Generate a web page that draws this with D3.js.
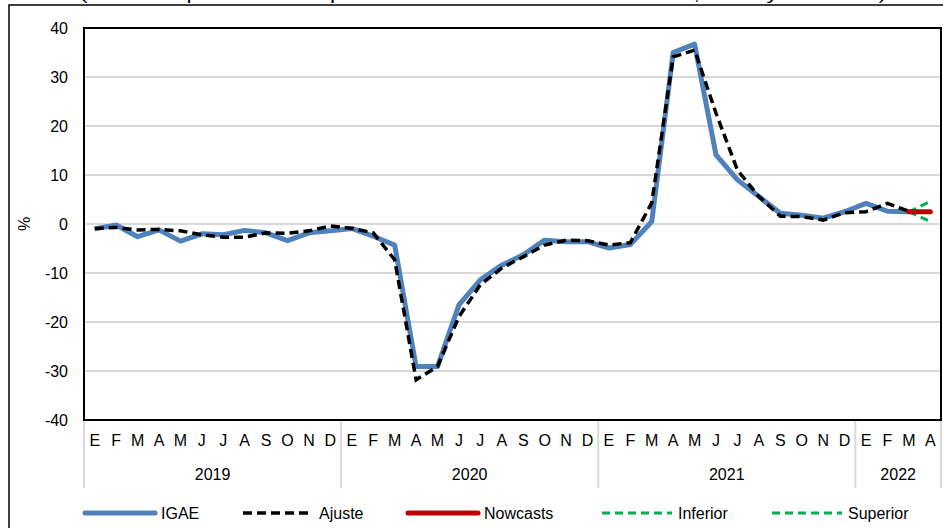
<!DOCTYPE html>
<meta charset="utf-8">
<title>IGAE nowcast</title>
<style>
  body { margin: 0; background: #fff; }
  svg text { font-family: "Liberation Sans", Arial, sans-serif; fill: #000; }
</style>
<body>
<svg id="chart" width="943" height="528"></svg>
<script src="https://d3js.org/d3.v7.min.js"></script>
<script>

// data
var years = ["2019", "2020", "2021", "2022"];
var monthLetters = ["E","F","M","A","M","J","J","A","S","O","N","D"];
var monthsPerYear = [12, 12, 12, 4];

var igae = [-1.0, -0.2, -2.6, -1.2, -3.5, -2.0, -2.2, -1.3, -1.8, -3.4, -1.8, -1.4,
            -0.9, -2.5, -4.3, -29.1, -29.1, -16.5, -11.4, -8.4, -6.3, -3.3, -3.6, -3.6,
            -4.9, -4.2, 0.5, 35.0, 36.7, 14.1, 9.0, 5.6, 2.2, 1.8, 1.2, 2.5,
            4.2, 2.6, 2.5, null];
var ajuste = [-0.9, -0.7, -1.2, -1.1, -1.4, -2.2, -2.7, -2.7, -1.8, -1.9, -1.4, -0.4,
              -0.9, -1.8, -7.3, -31.8, -29.1, -18.9, -12.4, -9.0, -6.7, -4.3, -3.3, -3.4,
              -4.3, -3.8, 4.3, 34.1, 35.5, 22.6, 11.0, 5.6, 1.6, 1.5, 0.8, 2.3,
              2.5, 4.2, 2.6, null];
var nowcastIdx = [38, 39];
var nowcasts = [2.5, 2.5];
var inferior = [2.5, 0.5];
var superior = [2.5, 4.6];

var yTicks = [-40, -30, -20, -10, 0, 10, 20, 30, 40];

var svg = d3.select("#chart");
var plotLeft = 84, plotRight = 941, plotTop = 28, plotBottom = 420;

// months flattened
var months = [];
years.forEach(function (yr, yi) {
  for (var m = 0; m < monthsPerYear[yi]; m++) months.push({ year: yr, m: m, label: monthLetters[m] });
});

var x = d3.scaleBand().domain(d3.range(months.length)).range([plotLeft, plotRight]);
var y = d3.scaleLinear().domain([-40, 40]).range([plotBottom, plotTop]);
var cx = function (i) { return x(i) + x.bandwidth() / 2; };

// outer frame
svg.append("rect").attr("x", 9).attr("y", 5).attr("width", 1000).attr("height", 600)
  .attr("fill", "none").attr("stroke", "#000").attr("stroke-width", 1.5);

// title, mostly cut off above the picture
svg.append("text").attr("x", 483).attr("y", 0).attr("text-anchor", "middle")
  .attr("font-size", 17).attr("textLength", 806).attr("lengthAdjust", "spacingAndGlyphs")
  .text("(Variación porcentual respecto al mismo mes del año anterior, IGAE y nowcasts)");

// gridlines
svg.append("g").selectAll("line").data(yTicks.filter(function (t) { return t > -40 && t < 40; }))
  .enter().append("line")
  .attr("x1", plotLeft).attr("x2", plotRight)
  .attr("y1", function (d) { return y(d); }).attr("y2", function (d) { return y(d); })
  .attr("stroke", "#d9d9d9").attr("stroke-width", 2);

// y axis labels
var yAxis = svg.append("g").attr("transform", "translate(" + plotLeft + ",0)")
  .call(d3.axisLeft(y).tickValues(yTicks).tickSize(0).tickPadding(16).tickFormat(String));
yAxis.select(".domain").remove();
yAxis.selectAll("text").attr("font-size", 16).style("font-family", "Liberation Sans, Arial, sans-serif");

svg.append("text").attr("transform", "translate(30,224) rotate(-90)")
  .attr("text-anchor", "middle").attr("font-size", 16).text("%");

// x axis: month letters
var xAxis = svg.append("g").attr("transform", "translate(0," + plotBottom + ")")
  .call(d3.axisBottom(x).tickSize(0).tickPadding(15).tickFormat(function (i) { return months[i].label; }));
xAxis.select(".domain").remove();
xAxis.selectAll("text").attr("font-size", 16).style("font-family", "Liberation Sans, Arial, sans-serif");

// year groups and separators
var start = 0, seps = [0];
years.forEach(function (yr, yi) {
  var end = start + monthsPerYear[yi];
  var mid = (x(start) + x(end - 1) + x.bandwidth()) / 2;
  svg.append("text").attr("x", mid).attr("y", 480).attr("text-anchor", "middle")
    .attr("font-size", 16).text(yr);
  start = end;
  seps.push(end);
});
svg.append("g").selectAll("line").data(seps).enter().append("line")
  .attr("x1", function (i) { return i < months.length ? x(i) : plotRight; })
  .attr("x2", function (i) { return i < months.length ? x(i) : plotRight; })
  .attr("y1", plotBottom).attr("y2", 488)
  .attr("stroke", "#d9d9d9").attr("stroke-width", 2);

// plot border
svg.append("rect").attr("x", plotLeft).attr("y", plotTop)
  .attr("width", plotRight - plotLeft).attr("height", plotBottom - plotTop)
  .attr("fill", "none").attr("stroke", "#000").attr("stroke-width", 2);

// series
var line = d3.line()
  .defined(function (d) { return d[1] !== null; })
  .x(function (d) { return cx(d[0]); })
  .y(function (d) { return y(d[1]); });

function pairs(vals, idx) {
  return vals.map(function (v, k) { return [idx ? idx[k] : k, v]; });
}

svg.append("path").datum(pairs(igae)).attr("d", line)
  .attr("fill", "none").attr("stroke", "#4f81bd").attr("stroke-width", 5).attr("stroke-linejoin", "round");
svg.append("path").datum(pairs(ajuste)).attr("d", line)
  .attr("fill", "none").attr("stroke", "#000").attr("stroke-width", 3.5).attr("stroke-dasharray", "9,5");
svg.append("path").datum(pairs(inferior, nowcastIdx)).attr("d", line)
  .attr("fill", "none").attr("stroke", "#00b050").attr("stroke-width", 3).attr("stroke-dasharray", "8,5");
svg.append("path").datum(pairs(superior, nowcastIdx)).attr("d", line)
  .attr("fill", "none").attr("stroke", "#00b050").attr("stroke-width", 3).attr("stroke-dasharray", "8,5");
svg.append("path").datum(pairs(nowcasts, nowcastIdx)).attr("d", line)
  .attr("fill", "none").attr("stroke", "#c00000").attr("stroke-width", 5).attr("stroke-linecap", "round");

// legend
var legend = [
  { name: "IGAE", color: "#4f81bd", w: 5, dash: null, x: 85 },
  { name: "Ajuste", color: "#000", w: 3.5, dash: "9,5", x: 243 },
  { name: "Nowcasts", color: "#c00000", w: 5, dash: null, x: 408 },
  { name: "Inferior", color: "#00b050", w: 3, dash: "8,5", x: 602 },
  { name: "Superior", color: "#00b050", w: 3, dash: "8,5", x: 772 }
];
var lg = svg.append("g").selectAll("g").data(legend).enter().append("g")
  .attr("transform", function (d) { return "translate(" + d.x + ",513)"; });
lg.append("line").attr("x1", 0).attr("x2", 70)
  .attr("stroke", function (d) { return d.color; })
  .attr("stroke-width", function (d) { return d.w; })
  .attr("stroke-dasharray", function (d) { return d.dash; })
  .attr("stroke-linecap", function (d) { return d.dash ? null : "round"; });
lg.append("text").attr("x", 76).attr("y", 6).attr("font-size", 16).text(function (d) { return d.name; });

</script>
</body>
